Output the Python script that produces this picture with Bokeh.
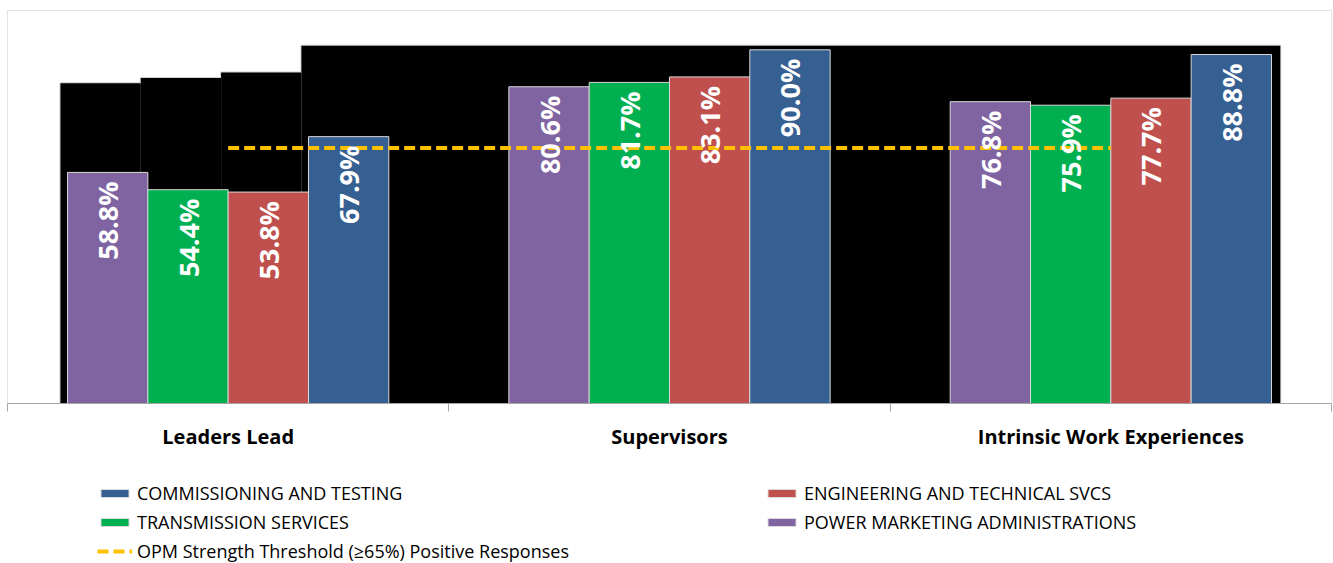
import math
from bokeh.plotting import figure
from bokeh.layouts import column
from bokeh.models import (Range1d, LinearAxis, FixedTicker, Legend, LegendItem, ColumnDataSource)
from bokeh.transform import dodge
from bokeh.core.properties import value
from bokeh.embed import file_html
from bokeh.resources import INLINE

# ---------------- data ----------------
categories = ["Leaders Lead", "Supervisors", "Intrinsic Work Experiences"]
power_marketing = [58.8, 80.6, 76.8]
transmission = [54.4, 81.7, 75.9]
engineering = [53.8, 83.1, 77.7]
commissioning = [67.9, 90.0, 88.8]
threshold = [65, 65, 65]
# dark backdrop panel heights (steps behind the first group, then one block)
backdrop_tops = [81.5, 82.8, 84.2, 91.0]

series_names = ["POWER MARKETING ADMINISTRATIONS", "TRANSMISSION SERVICES",
                "ENGINEERING AND TECHNICAL SVCS", "COMMISSIONING AND TESTING"]
series_colors = ["#8064A2", "#00B050", "#C0504D", "#376092"]
threshold_name = "OPM Strength Threshold (\u226565%) Positive Responses"

n = len(categories)
W = 0.182  # bar width in category units
offsets = [(k - 1.5) * W for k in range(4)]
centers = [i + 0.5 for i in range(n)]

MAIN_H = 470
p = figure(width=1333, height=MAIN_H, output_backend="svg", toolbar_location=None,
           x_range=Range1d(0, n), y_range=Range1d(0, 100),
           x_axis_location=None, y_axis_location=None,
           min_border_left=7, min_border_right=2, min_border_top=10,
           min_border_bottom=MAIN_H - 403)
p.outline_line_color = "#e3e3e3"
p.background_fill_color = "white"
p.border_fill_color = "white"

# backdrop: outline pass, then fill pass that hides internal seams
shift_l, shift_r = 0.016, 0.02
g0 = centers[0] - 2 * W - shift_l
b_left = [g0 + k * W for k in range(3)] + [g0 + 3 * W]
b_right = [g0 + (k + 1) * W for k in range(3)] + [centers[-1] + 2 * W + shift_r]
p.quad(left=b_left, right=b_right, bottom=0, top=backdrop_tops,
       fill_color="black", line_color="#d0d0d0", line_width=2)
p.quad(left=b_left, right=b_right, bottom=0, top=backdrop_tops,
       fill_color="black", line_color=None)

keys = ["pm", "ts", "en", "ct"]
data = dict(x=centers, thr=threshold)
for key, vals in zip(keys, [power_marketing, transmission, engineering, commissioning]):
    data[key] = vals
    data[key + "_l"] = [f"{v:.1f}%" for v in vals]
src = ColumnDataSource(data)

for key, off, color in zip(keys, offsets, series_colors):
    p.vbar(x=dodge("x", off), top=key, width=W, source=src,
           fill_color=color, line_color="#d9d9d9", line_width=1)

p.line(x="x", y="thr", source=src, line_color="#FFC000", line_width=4, line_dash="11 5")

for key, off in zip(keys, offsets):
    p.text(x=dodge("x", off), y=key, text=key + "_l", source=src,
           angle=math.pi / 2, text_align="right", text_baseline="middle",
           y_offset=9, text_color="white", text_font=value("Open Sans"),
           text_font_style="bold", text_font_size="27px")

# axes
edge_axis = LinearAxis(ticker=FixedTicker(ticks=list(range(n + 1))),
                       axis_line_color="#a6a6a6", major_tick_line_color="#a6a6a6",
                       major_tick_in=0, major_tick_out=8, minor_tick_line_color=None,
                       major_label_overrides={i: "" for i in range(n + 1)},
                       major_label_text_font_size="1px", major_label_standoff=0)
p.add_layout(edge_axis, "below")
cat_axis = LinearAxis(ticker=FixedTicker(ticks=centers),
                      major_label_overrides={c: lab for c, lab in zip(centers, categories)},
                      axis_line_color=None, major_tick_line_color=None,
                      minor_tick_line_color=None,
                      major_label_text_font="Open Sans", major_label_text_font_style="bold",
                      major_label_text_font_size="20px", major_label_text_color="black",
                      major_label_standoff=5)
p.add_layout(cat_axis, "below")
p.xgrid.visible = False
p.ygrid.visible = False

# ---------------- legend strip ----------------
LEG_H = 563 - MAIN_H
q = figure(width=1333, height=LEG_H, output_backend="svg", toolbar_location=None,
           x_range=Range1d(0, 1), y_range=Range1d(0, 1),
           x_axis_location=None, y_axis_location=None,
           min_border_left=0, min_border_right=0, min_border_top=0, min_border_bottom=0)
q.outline_line_color = None
q.xgrid.visible = False
q.ygrid.visible = False
# legend-only proxies, placed outside the visible range of this strip
proxy = ColumnDataSource(dict(x=[-1], top=[-1], y=[-1]))
leg_r = {}
for name, color in zip(series_names, series_colors):
    leg_r[name] = q.vbar(x="x", top="top", width=0.1, source=proxy,
                         fill_color=color, line_color="#d9d9d9", line_width=1)
leg_r[threshold_name] = q.line(x="x", y="y", source=proxy, line_color="#FFC000",
                               line_width=4, line_dash="11 5")

common = dict(orientation="vertical", glyph_width=35, glyph_height=10, label_height=20,
              spacing=5, padding=0, margin=0, border_line_color=None,
              background_fill_alpha=0, label_standoff=5,
              label_text_font="Open Sans", label_text_font_size="18px",
              label_text_color="black")
col1 = ["COMMISSIONING AND TESTING", "TRANSMISSION SERVICES", threshold_name]
col2 = ["ENGINEERING AND TECHNICAL SVCS", "POWER MARKETING ADMINISTRATIONS"]
leg1 = Legend(items=[LegendItem(label=nm, renderers=[leg_r[nm]]) for nm in col1],
              location=(90, 0), **common)
leg2 = Legend(items=[LegendItem(label=nm, renderers=[leg_r[nm]]) for nm in col2],
              location=(757, 29), **common)
q.add_layout(leg1)
q.add_layout(leg2)

layout = column(p, q, spacing=0)
open("out.html", "w").write(file_html(layout, INLINE))
